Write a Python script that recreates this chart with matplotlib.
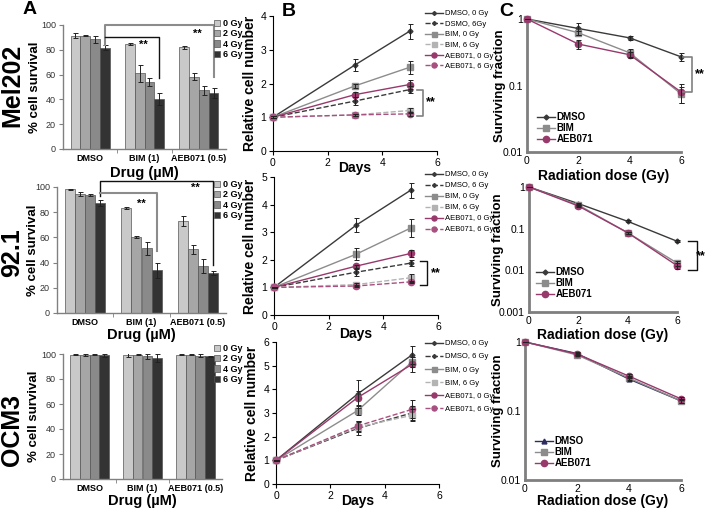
import matplotlib
matplotlib.use("Agg")
import matplotlib.pyplot as plt
import numpy as np

plt.rcParams['font.family'] = ['Liberation Sans', 'DejaVu Sans']

W, H = 707, 508

# ---- panel A: % cell survival (rows = drug, cols = dose) ----
drugs = ['DMSO', 'BIM (1)', 'AEB071 (0.5)']
bar_doses = ['0 Gy', '2 Gy', '4 Gy', '6 Gy']

mel_surv = [[91.2, 91.4, 88.5, 81.8], [84.7, 61.0, 54.0, 40.2], [82.0, 58.4, 47.2, 45.0]]
mel_surv_err = [[2.0, 0.5, 3.0, 2.0], [1.0, 6.7, 3.5, 4.7], [1.2, 2.5, 3.5, 4.0]]
m92_surv = [[98.3, 94.6, 93.6, 87.5], [83.2, 60.2, 51.4, 34.0], [73.0, 50.5, 37.5, 32.0]]
m92_surv_err = [[0.5, 1.6, 0.6, 2.4], [1.0, 0.6, 5.3, 6.0], [4.0, 3.8, 5.5, 1.5]]
ocm_surv = [[99.5, 99.0, 99.5, 99.0], [99.0, 99.5, 98.2, 97.0], [99.5, 99.5, 98.7, 98.2]]
ocm_surv_err = [[0.5, 0.8, 0.5, 1.0], [1.5, 0.5, 1.8, 3.0], [0.5, 0.5, 1.3, 0.6]]

# ---- panel B: relative cell number ----
days = [0, 3, 5]
growth_labels_mel = ['DMSO, 0 Gy', 'DSMO, 6Gy', 'BIM, 0 Gy', 'BIM, 6 Gy', 'AEB071, 0 Gy', 'AEB071, 6 Gy']
growth_labels = ['DMSO, 0 Gy', 'DMSO, 6 Gy', 'BIM, 0 Gy', 'BIM, 6 Gy', 'AEB071, 0 Gy', 'AEB071, 6 Gy']

mel_growth = [[1, 2.55, 3.55], [1, 1.48, 1.82], [1, 1.93, 2.48],
              [1, 1.07, 1.20], [1, 1.67, 1.97], [1, 1.07, 1.10]]
mel_growth_err = [[0.03, 0.17, 0.22], [0.03, 0.12, 0.10], [0.03, 0.06, 0.20],
                  [0.03, 0.03, 0.08], [0.03, 0.08, 0.13], [0.03, 0.03, 0.05]]
m92_growth = [[1, 3.25, 4.52], [1, 1.55, 1.88], [1, 2.20, 3.15],
              [1, 1.10, 1.35], [1, 1.77, 2.23], [1, 1.05, 1.20]]
m92_growth_err = [[0.03, 0.26, 0.28], [0.03, 0.12, 0.10], [0.03, 0.22, 0.32],
                  [0.03, 0.05, 0.15], [0.03, 0.05, 0.12], [0.03, 0.03, 0.05]]
ocm_growth = [[1, 3.80, 5.45], [1, 2.35, 3.00], [1, 3.10, 5.15],
              [1, 2.40, 2.90], [1, 3.65, 5.05], [1, 2.45, 3.15]]
ocm_growth_err = [[0.03, 0.60, 0.38], [0.03, 0.30, 0.30], [0.03, 0.20, 0.20],
                  [0.03, 0.20, 0.25], [0.03, 0.30, 0.30], [0.03, 0.20, 0.38]]

# ---- panel C: surviving fraction ----
rad_dose = [0, 2, 4, 6]
sf_labels = ['DMSO', 'BIM', 'AEB071']
mel_sf = [[1, 0.72, 0.52, 0.27], [1, 0.62, 0.31, 0.075], [1, 0.42, 0.29, 0.08]]
mel_sf_err = [[0, 0.14, 0.04, 0.04], [0, 0.05, 0.04, 0.02], [0, 0.07, 0.03, 0.025]]
m92_sf = [[1, 0.40, 0.15, 0.05], [1, 0.37, 0.08, 0.015], [1, 0.35, 0.08, 0.013]]
m92_sf_err = [[0, 0.02, 0.008, 0.003], [0, 0.02, 0.005, 0.002], [0, 0.02, 0.005, 0.002]]
ocm_sf = [[1, 0.68, 0.29, 0.14], [1, 0.65, 0.30, 0.14], [1, 0.67, 0.32, 0.15]]
ocm_sf_err = [[0, 0.03, 0.02, 0.008], [0, 0.03, 0.02, 0.008], [0, 0.03, 0.02, 0.008]]

bar_colors = ['#c9c9c9', '#a6a6a6', '#8a8a8a', '#333333']
line_styles = [('#3a3a3a', '-', 'D', 2.5), ('#3a3a3a', '--', 'D', 2.5),
               ('#8c8c8c', '-', 's', 4.5), ('#b3b3b3', '--', 's', 4.5),
               ('#98396c', '-', 'o', 4.5), ('#a8507f', '--', 'o', 4.5)]
sf_styles = [('#3a3a3a', 'D', 2.5), ('#8c8c8c', 's', 4.5), ('#98396c', 'o', 4.5)]
err_kw = dict(fmt='none', ecolor='#222222', elinewidth=0.7, capsize=1.8, capthick=0.7,
              zorder=4, clip_on=False)

fig = plt.figure(figsize=(W / 100, H / 100), dpi=100)


def box(l, t, r, b):
    return [l / W, 1 - b / H, (r - l) / W, (b - t) / H]


def fpos(x, y):
    return (x / W, 1 - y / H)


def place_labels(ax, rect, xlab_y, ylab_x):
    # put axis label centres at given pixel positions
    l, t, r, b = rect
    ax.xaxis.set_label_coords(0.5, (b - xlab_y) / (b - t))
    ax.yaxis.set_label_coords((ylab_x - l) / (r - l), 0.5)


def bracket(ax, pts, color, lw=1.0):
    xs, ys = zip(*pts)
    ax.plot(xs, ys, color=color, lw=lw, clip_on=False, zorder=5)


def bar_panel(rect, surv, err, legend_xy, xlab_y, ylab_x):
    ax = fig.add_axes(box(*rect))
    bw = 0.18
    for j in range(4):
        xs = np.arange(3) + (j - 1.5) * bw
        vals = [surv[i][j] for i in range(3)]
        es = [err[i][j] for i in range(3)]
        ax.bar(xs, vals, bw, color=bar_colors[j], edgecolor='#555555', lw=0.5,
               yerr=es, error_kw=dict(ecolor='#222222', elinewidth=0.7, capsize=1.8, capthick=0.7),
               label=bar_doses[j])
    ax.set_xlim(-0.5, 2.5)
    ax.set_ylim(0, 100)
    ax.set_yticks(range(0, 101, 20))
    ax.set_xticks(range(3))
    ax.set_xticklabels(drugs, fontsize=6.5, fontweight='bold')
    ax.set_xticks([0.5, 1.5], minor=True)
    ax.tick_params(axis='x', which='major', length=0, pad=3.5)
    ax.tick_params(axis='x', which='minor', length=3, color='#808080')
    ax.tick_params(axis='y', labelsize=6.5, length=3, color='#808080', pad=2, labelcolor='#333333')
    for s in ('top', 'right'):
        ax.spines[s].set_visible(False)
    for s in ('left', 'bottom'):
        ax.spines[s].set_color('#808080')
        ax.spines[s].set_linewidth(1.0)
    ax.set_ylabel('% cell survival', fontsize=9.5, fontweight='bold', va='center')
    ax.set_xlabel('Drug (\u00b5M)', fontsize=10.5, fontweight='bold', va='center')
    place_labels(ax, rect, xlab_y, ylab_x)
    leg = ax.legend(loc='upper left', bbox_to_anchor=fpos(*legend_xy), bbox_transform=fig.transFigure,
                    frameon=False, fontsize=6.5, handlelength=0.7, handleheight=0.7,
                    handletextpad=0.3, labelspacing=0.15, borderpad=0, borderaxespad=0)
    for t in leg.get_texts():
        t.set_fontweight('bold')
    return ax


def growth_panel(rect, ymax, data, err, labels, legend_xy, spacing, xlab_y, ylab_x):
    ax = fig.add_axes(box(*rect))
    for k in range(6):
        c, ls, mk, ms = line_styles[k]
        ax.plot(days, data[k], color=c, ls=ls, lw=1.0, marker=mk, ms=ms,
                label=labels[k], clip_on=False, zorder=3)
        ax.errorbar(days, data[k], yerr=err[k], **err_kw)
    ax.set_xlim(0, 6)
    ax.set_ylim(0, ymax)
    ax.set_xticks([0, 2, 4, 6])
    ax.set_yticks(range(0, ymax + 1))
    ax.tick_params(labelsize=7.5, length=3, pad=2)
    for s in ('top', 'right'):
        ax.spines[s].set_visible(False)
    ax.set_ylabel('Relative cell number', fontsize=10, fontweight='bold', va='center')
    ax.set_xlabel('Days', fontsize=10, fontweight='bold', va='center')
    place_labels(ax, rect, xlab_y, ylab_x)
    ax.legend(loc='upper left', bbox_to_anchor=fpos(*legend_xy), bbox_transform=fig.transFigure,
              frameon=False, fontsize=5.5, handlelength=2.4, handletextpad=0.2,
              labelspacing=spacing, borderpad=0, borderaxespad=0, markerscale=0.8)
    return ax


def sf_panel(rect, ymin, data, err, legend_xy, xlab_y, ylab_x, first_style=None):
    ax = fig.add_axes(box(*rect))
    for k in range(3):
        c, mk, ms = sf_styles[k]
        if k == 0 and first_style:
            c, mk, ms = first_style
        ax.plot(rad_dose, data[k], color=c, lw=1.0, marker=mk, ms=ms,
                label=sf_labels[k], clip_on=False, zorder=3)
        ax.errorbar(rad_dose, data[k], yerr=err[k], **err_kw)
    ax.set_yscale('log')
    ax.set_xlim(0, 6)
    ax.set_ylim(ymin, 1)
    ax.set_xticks([0, 2, 4, 6])
    ticks = [t for t in [1, 0.1, 0.01, 0.001] if t >= ymin]
    ax.set_yticks(ticks)
    ax.set_yticklabels(['%g' % t for t in ticks])
    ax.minorticks_off()
    ax.tick_params(labelsize=7.5, length=0, pad=3)
    for s in ('top', 'right'):
        ax.spines[s].set_visible(False)
    for s in ('left', 'bottom'):
        ax.spines[s].set_color('#7f7f7f')
        ax.spines[s].set_linewidth(2.0)
    ax.set_ylabel('Surviving fraction', fontsize=9.5, fontweight='bold', va='center')
    ax.set_xlabel('Radiation dose (Gy)', fontsize=10, fontweight='bold', va='center')
    place_labels(ax, rect, xlab_y, ylab_x)
    leg = ax.legend(loc='upper left', bbox_to_anchor=fpos(*legend_xy), bbox_transform=fig.transFigure,
                    frameon=False, fontsize=7, handlelength=1.9, handletextpad=0.1,
                    labelspacing=0.1, borderpad=0, borderaxespad=0)
    for t in leg.get_texts():
        t.set_fontweight('bold')
    return ax


x6 = 1.5 * 0.18

# row 1: Mel202
a1 = bar_panel((63, 25, 226, 149), mel_surv, mel_surv_err, (214, 19), 173, 35)
bracket(a1, [(x6, 84), (x6, 100), (2 + x6, 100), (2 + x6, 58)], '#8c8c8c', 1.5)
bracket(a1, [(x6, 90.6), (1 + x6, 90.6), (1 + x6, 57)], '#111111', 1.0)
a1.text(0.98, 84, '**', fontsize=8, fontweight='bold', ha='center', va='center')
a1.text(1.97, 92.7, '**', fontsize=8, fontweight='bold', ha='center', va='center')

b1 = growth_panel((273, 16, 437, 151), 4, mel_growth, mel_growth_err, growth_labels_mel,
                  (425, 10), 0.42, 168, 250)
bracket(b1, [(5.27, 1.82), (5.49, 1.82), (5.49, 1.05), (5.27, 1.05)], '#808080', 1.2)
b1.text(5.78, 1.45, '**', fontsize=9, fontweight='bold', ha='center', va='center', clip_on=False)

c1 = sf_panel((527, 19, 681, 152), 0.01, mel_sf, mel_sf_err, (537, 112), 176, 500)
bracket(c1, [(6.08, 0.27), (6.43, 0.27), (6.43, 0.08), (6.08, 0.08)], '#808080', 1.2)
c1.text(6.75, 0.15, '**', fontsize=9, fontweight='bold', ha='center', va='center', clip_on=False)

# row 2: 92.1
a2 = bar_panel((57, 187, 226, 313), m92_surv, m92_surv_err, (214, 180), 335, 33)
bracket(a2, [(x6, 93), (x6, 105), (2 + x6, 105), (2 + x6, 38)], '#111111', 1.0)
bracket(a2, [(x6, 95), (1 + x6, 95), (1 + x6, 49)], '#8c8c8c', 1.5)
a2.text(1.0, 86.5, '**', fontsize=8, fontweight='bold', ha='center', va='center')
a2.text(1.96, 99, '**', fontsize=8, fontweight='bold', ha='center', va='center')

b2 = growth_panel((274, 177, 438, 315), 5, m92_growth, m92_growth_err, growth_labels,
                  (425, 171), 0.48, 334, 250)
bracket(b2, [(5.35, 1.95), (5.6, 1.95), (5.6, 1.1), (5.35, 1.1)], '#111111', 1.0)
b2.text(5.92, 1.5, '**', fontsize=9, fontweight='bold', ha='center', va='center', clip_on=False)

c2 = sf_panel((529, 187, 677, 312), 0.001, m92_sf, m92_sf_err, (536, 267), 335, 498)
bracket(c2, [(6.45, 0.05), (6.8, 0.05), (6.8, 0.01), (6.45, 0.01)], '#111111', 1.0)
c2.text(6.98, 0.022, '**', fontsize=9, fontweight='bold', ha='center', va='center', clip_on=False)

# row 3: OCM3
a3 = bar_panel((63, 354, 222, 479), ocm_surv, ocm_surv_err, (214, 344), 501, 34)
b3 = growth_panel((276, 342, 439, 484), 6, ocm_growth, ocm_growth_err, growth_labels,
                  (425, 340), 0.75, 501, 252)
c3 = sf_panel((525, 342, 681, 480), 0.01, ocm_sf, ocm_sf_err, (535, 436), 501, 498,
              first_style=('#2b2b5e', '^', 3.5))

# row and panel labels
for name, y in (('Mel202', 85), ('92.1', 253), ('OCM3', 430)):
    fig.text(*fpos(12, y), name, rotation=90, fontsize=18, fontweight='bold', ha='center', va='center')
for letter, x, y in (('A', 30, 10), ('B', 289, 11), ('C', 506, 12)):
    fig.text(*fpos(x, y), letter, fontsize=14, fontweight='bold', ha='center', va='center')

fig.savefig('out.png', dpi=100)
